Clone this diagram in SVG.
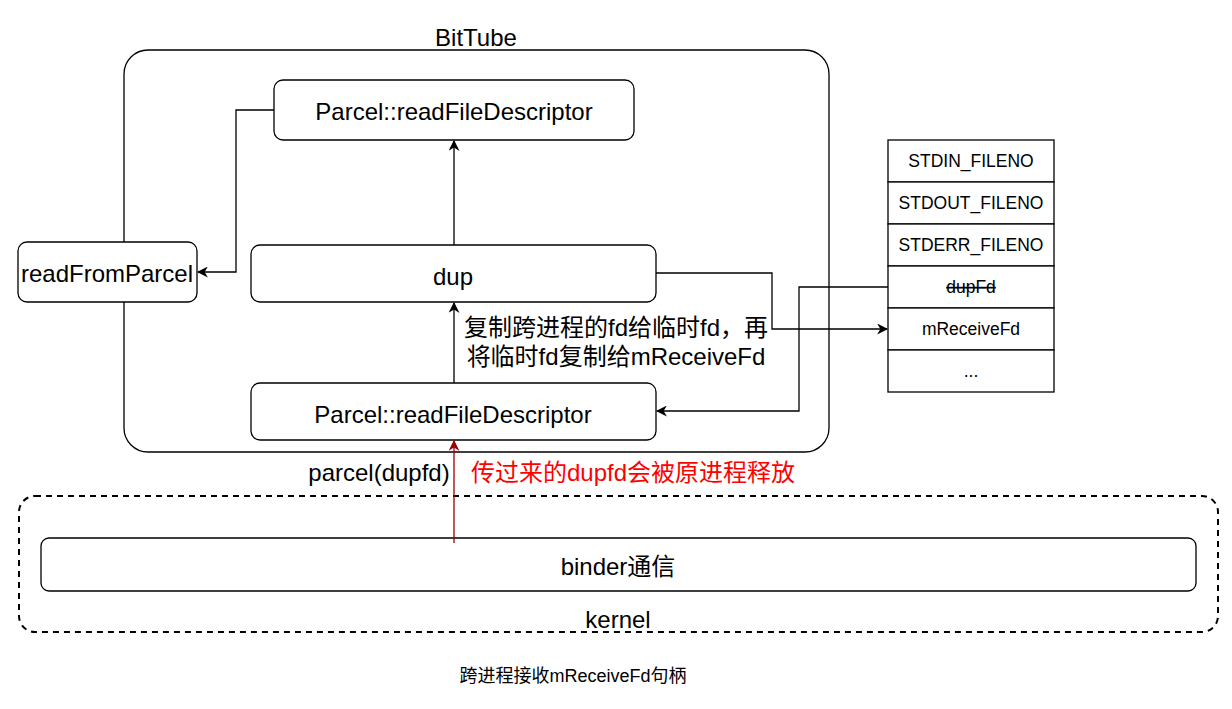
<svg xmlns="http://www.w3.org/2000/svg" width="1232" height="709" viewBox="0 0 1232 709">
<style>
.box{fill:#fff;stroke:#000;stroke-width:1.3}
.t{font-family:"Liberation Sans","Noto Sans CJK SC",sans-serif;font-size:24px;fill:#000;text-anchor:middle;dominant-baseline:central}
.s{font-family:"Liberation Sans","Noto Sans CJK SC",sans-serif;font-size:17.5px;fill:#000;text-anchor:middle;dominant-baseline:central}
.c{fill:none;stroke:#000;stroke-width:1.3}
</style>
<defs>
<marker id="a" viewBox="0 0 10 10" refX="9" refY="5" markerWidth="11" markerHeight="11" markerUnits="userSpaceOnUse" orient="auto"><path d="M0,0 L10,5 L0,10 L3,5 Z" fill="#000"/></marker>
<marker id="ar" viewBox="0 0 10 10" refX="9" refY="5" markerWidth="11" markerHeight="11" markerUnits="userSpaceOnUse" orient="auto"><path d="M0,0 L10,5 L0,10 L3,5 Z" fill="#990000"/></marker>
</defs>
<rect width="1232" height="709" fill="#fff"/>
<g id="kernel">
<rect x="19" y="496" width="1199" height="136" rx="16" fill="none" stroke="#000" stroke-width="2" stroke-dasharray="6 5"/>
<text class="t" x="618" y="619">kernel</text>
</g>
<g id="bittube">
<rect class="box" x="124" y="50" width="705" height="402" rx="24"/>
<text class="t" x="476" y="37">BitTube</text>
</g>
<g id="binder">
<rect class="box" x="41" y="538" width="1155" height="53" rx="8"/>
<text class="t" x="618" y="566">binder通信</text>
</g>
<g id="parcelTop">
<rect class="box" x="274" y="80" width="360" height="60" rx="9"/>
<text class="t" x="454" y="111">Parcel::readFileDescriptor</text>
</g>
<g id="readFromParcel">
<rect class="box" x="18" y="242" width="179" height="60" rx="9"/>
<text class="t" x="107" y="273">readFromParcel</text>
</g>
<g id="dup">
<rect class="box" x="251" y="245" width="405" height="57" rx="9"/>
<text class="t" x="453" y="276">dup</text>
</g>
<g id="parcelBottom">
<rect class="box" x="251" y="383" width="405" height="57" rx="9"/>
<text class="t" x="453" y="414">Parcel::readFileDescriptor</text>
</g>
<g id="fdtable">
<rect class="box" x="888" y="140" width="166" height="42"/>
<text class="s" x="971" y="161">STDIN_FILENO</text>
<rect class="box" x="888" y="182" width="166" height="42"/>
<text class="s" x="971" y="203">STDOUT_FILENO</text>
<rect class="box" x="888" y="224" width="166" height="42"/>
<text class="s" x="971" y="245">STDERR_FILENO</text>
<rect class="box" x="888" y="266" width="166" height="42"/>
<text class="s" x="971" y="287" text-decoration="line-through">dupFd</text>
<rect class="box" x="888" y="308" width="166" height="42"/>
<text class="s" x="971" y="329">mReceiveFd</text>
<rect class="box" x="888" y="350" width="166" height="42"/>
<text class="s" x="971" y="371">...</text>
</g>
<g id="connectors">
<path class="c" d="M454,245 L454,141" marker-end="url(#a)"/>
<path class="c" d="M454,383 L454,303" marker-end="url(#a)"/>
<path class="c" d="M274,110 L236,110 L236,272 L198,272" marker-end="url(#a)"/>
<path class="c" d="M656,273 L772,273 L772,329 L887,329" marker-end="url(#a)"/>
<path class="c" d="M888,287 L799,287 L799,411 L657,411" marker-end="url(#a)"/>
<path d="M454,543 L454,441" fill="none" stroke="#990000" stroke-width="1.3" marker-end="url(#ar)"/>
<text class="t" x="616" y="327">复制跨进程的fd给临时fd，再</text>
<text class="t" x="616" y="356">将临时fd复制给mReceiveFd</text>
<text class="t" x="379" y="472">parcel(dupfd)</text>
<text class="t" x="633" y="472" style="fill:#ff0000">传过来的dupfd会被原进程释放</text>
</g>
<text class="s" x="573" y="676" style="font-size:18px">跨进程接收mReceiveFd句柄</text>
</svg>
